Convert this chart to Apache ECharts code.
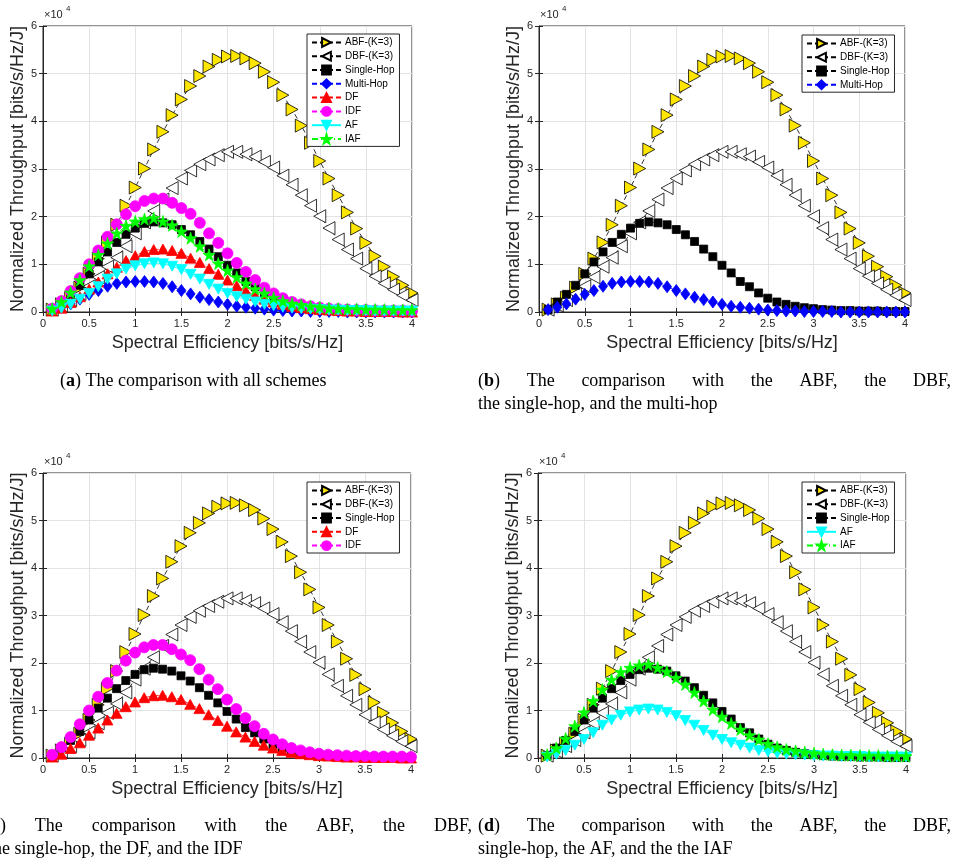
<!DOCTYPE html>
<html>
<head>
<meta charset="utf-8">
<script src="https://cdn.jsdelivr.net/npm/echarts@6/dist/echarts.min.js"></script>
<style>html,body{margin:0;padding:0;background:#fff;}#c{width:953px;height:863px;}</style>
</head>
<body>
<div id="c"></div>
<script>
// Spectral efficiency [bits/s/Hz]
const xs = [0.1,0.2,0.3,0.4,0.5,0.6,0.7,0.8,0.9,1.0,1.1,1.2,1.3,1.4,1.5,1.6,1.7,1.8,1.9,2.0,
            2.1,2.2,2.3,2.4,2.5,2.6,2.7,2.8,2.9,3.0,3.1,3.2,3.3,3.4,3.5,3.6,3.7,3.8,3.9,4.0];
// Normalized throughput, in units of 10^4 bits/s/Hz/J
const abf    = [0.05,0.16,0.30,0.51,0.80,1.12,1.46,1.83,2.23,2.61,3.01,3.41,3.78,4.13,4.46,4.74,4.95,5.15,5.29,5.36,
                5.37,5.32,5.22,5.04,4.82,4.55,4.25,3.91,3.55,3.17,2.80,2.45,2.09,1.75,1.45,1.17,0.95,0.74,0.56,0.40];
const dbf    = [0.05,0.14,0.25,0.38,0.54,0.73,0.95,1.14,1.38,1.65,1.88,2.12,2.36,2.60,2.80,2.97,3.10,3.20,3.29,3.36,
                3.36,3.31,3.26,3.15,3.03,2.86,2.67,2.45,2.23,2.01,1.76,1.52,1.31,1.12,0.91,0.75,0.60,0.47,0.35,0.25];
const single = [0.05,0.21,0.37,0.56,0.80,1.05,1.26,1.46,1.63,1.76,1.86,1.89,1.87,1.83,1.73,1.62,1.48,1.32,1.16,0.98,
                0.82,0.64,0.53,0.40,0.29,0.21,0.16,0.12,0.09,0.07,0.05,0.04,0.03,0.03,0.02,0.02,0.02,0.01,0.01,0.01];
const multi  = [0.05,0.10,0.17,0.27,0.37,0.45,0.54,0.60,0.63,0.64,0.64,0.63,0.60,0.53,0.45,0.38,0.31,0.26,0.21,0.16,
                0.12,0.10,0.08,0.06,0.04,0.03,0.02,0.02,0.01,0.01,0.01,0.01,0.00,0.00,0.00,0.00,0.00,0.00,0.00,0.00];
const df     = [0.02,0.08,0.20,0.32,0.48,0.63,0.80,0.94,1.08,1.18,1.27,1.31,1.32,1.29,1.23,1.13,1.04,0.91,0.79,0.67,
                0.55,0.44,0.35,0.27,0.21,0.16,0.12,0.09,0.07,0.05,0.04,0.03,0.02,0.02,0.01,0.01,0.01,0.01,0.00,0.00];
const idf    = [0.07,0.23,0.44,0.71,1.00,1.29,1.58,1.84,2.05,2.22,2.33,2.38,2.38,2.29,2.18,2.06,1.87,1.65,1.45,1.23,
                1.03,0.84,0.67,0.51,0.39,0.29,0.21,0.16,0.12,0.09,0.07,0.06,0.05,0.04,0.04,0.03,0.03,0.03,0.03,0.02];
const af     = [0.02,0.08,0.16,0.27,0.39,0.53,0.69,0.80,0.90,0.97,1.01,1.03,1.01,0.96,0.89,0.79,0.69,0.58,0.48,0.39,
                0.32,0.27,0.21,0.16,0.13,0.10,0.08,0.07,0.06,0.05,0.04,0.04,0.03,0.03,0.03,0.02,0.02,0.02,0.02,0.02];
const iaf    = [0.07,0.21,0.41,0.67,0.96,1.20,1.44,1.65,1.81,1.90,1.95,1.97,1.90,1.82,1.69,1.55,1.38,1.20,1.02,0.87,
                0.73,0.60,0.48,0.39,0.30,0.23,0.18,0.15,0.12,0.10,0.08,0.07,0.06,0.06,0.05,0.05,0.05,0.04,0.04,0.04];

const xTicks = [0,0.5,1,1.5,2,2.5,3,3.5,4];
const yTicks = [0,1,2,3,4,5,6];
const seriesNames = {abf:'ABF-(K=3)', dbf:'DBF-(K=3)', single:'Single-Hop', multi:'Multi-Hop',
                     df:'DF', idf:'IDF', af:'AF', iaf:'IAF'};
const seriesData = {abf, dbf, single, multi, df, idf, af, iaf};
const panels = [
  ['abf','dbf','single','multi','df','idf','af','iaf'],
  ['abf','dbf','single','multi'],
  ['abf','dbf','single','df','idf'],
  ['abf','dbf','single','af','iaf']
];
const xTitle = 'Spectral Efficiency [bits/s/Hz]';
const yTitle = 'Normalized Throughput [bits/s/Hz/J]';

// ---- styling / layout ----
const SANS = '"Liberation Sans", Arial, Helvetica, sans-serif';
const SERIF = '"Liberation Serif", "Times New Roman", serif';
const grids = [
  {left:43,  top:26,  width:369, height:286},
  {left:539, top:26,  width:366, height:286},
  {left:43,  top:473, width:368, height:285},
  {left:538, top:473, width:368, height:285}
];
const legendPos = [
  {left:307, top:34}, {left:802, top:35}, {left:307, top:482}, {left:802, top:482}
];
const STAR = 'path://M50,0L61,35L98,35L68,57L79,91L50,70L21,91L32,57L2,35L39,35Z';
const styles = {
  abf:   {symbol:'path://M0,0L10,5L0,10Z', size:[12,13], fill:'#FFE600', stroke:'#000', line:'#000', dash:[5,3]},
  dbf:   {symbol:'path://M10,0L0,5L10,10Z', size:[12,13], fill:'#FFFFFF', stroke:'#000', line:'#000', dash:[5,3]},
  single:{symbol:'rect', size:8, fill:'#000', stroke:'#000', line:'#000', dash:[5,3]},
  multi: {symbol:'diamond', size:[9,12], fill:'#0000FF', stroke:'#0000FF', line:'#0000FF', dash:[5,3]},
  df:    {symbol:'triangle', size:[11,10], fill:'#FF0000', stroke:'#FF0000', line:'#FF0000', dash:[5,3]},
  idf:   {symbol:'circle', size:11, fill:'#FF00FF', stroke:'#FF00FF', line:'#FF00FF', dash:[5,3]},
  af:    {symbol:'path://M0,0L10,0L5,9Z', size:[11,10], fill:'#00FFFF', stroke:'#00FFFF', line:'#00FFFF', dash:'solid'},
  iaf:   {symbol:STAR, size:12, fill:'#00FF00', stroke:'#00FF00', line:'#00FF00', dash:[6,3,1,3]}
};

const xAxis = [], yAxis = [], series = [], legend = [], graphic = [];
grids.forEach((g, p) => {
  xAxis.push({
    type:'value', gridIndex:p, min:0, max:4, interval:0.5,
    name:xTitle, nameLocation:'middle', nameGap:22,
    nameTextStyle:{fontFamily:SANS, fontSize:18, color:'#262626'},
    axisLine:{show:true, lineStyle:{color:'#262626', width:1}},
    axisTick:{show:true, inside:true, length:4, lineStyle:{color:'#262626'}},
    axisLabel:{fontFamily:SANS, fontSize:11, color:'#262626', margin:6},
    splitLine:{show:true, lineStyle:{color:'#E3E3E3', width:1}}
  });
  yAxis.push({
    type:'value', gridIndex:p, min:0, max:6, interval:1,
    name:yTitle, nameLocation:'middle', nameGap:13,
    nameTextStyle:{fontFamily:SANS, fontSize:18, color:'#262626'},
    axisLine:{show:true, lineStyle:{color:'#262626', width:1}},
    axisTick:{show:true, inside:true, length:4, lineStyle:{color:'#262626'}},
    axisLabel:{fontFamily:SANS, fontSize:11, color:'#262626', margin:6},
    splitLine:{show:true, lineStyle:{color:'#E3E3E3', width:1}}
  });
  graphic.push({type:'text', left:g.left+1, top:g.top-17,
    style:{text:'\u00D710', font:'11px '+SANS, fill:'#262626'}});
  graphic.push({type:'text', left:g.left+23, top:g.top-21,
    style:{text:'4', font:'8px '+SANS, fill:'#262626'}});
});
// box ticks on top and right
grids.forEach((g, p) => {
  xAxis.push({type:'value', gridIndex:p, position:'top', min:0, max:4, interval:0.5,
    axisLine:{show:false}, axisLabel:{show:false}, splitLine:{show:false},
    axisTick:{show:true, inside:true, length:4, lineStyle:{color:'#262626'}}});
  yAxis.push({type:'value', gridIndex:p, position:'right', min:0, max:6, interval:1,
    axisLine:{show:false}, axisLabel:{show:false}, splitLine:{show:false},
    axisTick:{show:true, inside:true, length:4, lineStyle:{color:'#262626'}}});
});

panels.forEach((keys, p) => {
  keys.forEach(k => {
    const s = styles[k];
    const arr = seriesData[k];
    series.push({
      type:'line', name:seriesNames[k], xAxisIndex:p, yAxisIndex:p,
      data: xs.map((x, i) => [x, arr[i]]),
      symbol:s.symbol, symbolSize:s.size, showAllSymbol:true,
      itemStyle:{color:s.fill, borderColor:s.stroke, borderWidth:0.8},
      lineStyle:{color:s.line, width:0.8, type:s.dash},
      emphasis:{disabled:true}, animation:false, clip:true
    });
  });
  legend.push({
    data: keys.map(k => seriesNames[k]),
    left: legendPos[p].left, top: legendPos[p].top, orient:'vertical',
    itemWidth:29, itemHeight:11, itemGap:3, padding:[3,5,2,4],
    backgroundColor:'#fff', borderColor:'#262626', borderWidth:1, borderRadius:0,
    textStyle:{fontFamily:SANS, fontSize:10, color:'#000', padding:[0,0,0,-1]},
    selectedMode:false
  });
});

// ---- captions ----
const cv = document.createElement('canvas').getContext('2d');
const CAP_SIZE = 18;
function fontOf(b){ return (b ? 'bold ' : '') + CAP_SIZE + 'px ' + SERIF; }
function measure(t, b){ cv.font = fontOf(b); return cv.measureText(t).width; }
function toWords(str){
  return str.split(' ').map(w => {
    const m = w.match(/^\(([a-d])\)$/);
    if (m) return [{t:'('}, {t:m[1], b:true}, {t:')'}];
    return [{t:w}];
  });
}
function captionLine(str, x0, x1, y, justify){
  const words = toWords(str);
  const widths = words.map(w => w.reduce((s, r) => s + measure(r.t, r.b), 0));
  const total = widths.reduce((a, b) => a + b, 0);
  const gap = justify ? (x1 - x0 - total) / (words.length - 1) : measure(' ', false);
  let x = x0;
  words.forEach((w, i) => {
    let rx = x;
    w.forEach(r => {
      graphic.push({type:'text', x:rx, y:y,
        style:{text:r.t, font:fontOf(r.b), fill:'#000', textVerticalAlign:'middle', textAlign:'left'}});
      rx += measure(r.t, r.b);
    });
    x += widths[i] + gap;
  });
}
captionLine('(a) The comparison with all schemes', 60, 0, 381, false);
captionLine('(b) The comparison with the ABF, the DBF,', 478, 951, 381, true);
captionLine('the single-hop, and the multi-hop', 478, 0, 404, false);
captionLine('(c) The comparison with the ABF, the DBF,', -14, 472, 826, true);
captionLine('the single-hop, the DF, and the IDF', -12, 0, 849, false);
captionLine('(d) The comparison with the ABF, the DBF,', 478, 951, 826, true);
captionLine('single-hop, the AF, and the the IAF', 478, 0, 849, false);

const chart = echarts.init(document.getElementById('c'), null, {renderer:'canvas'});
chart.setOption({
  animation:false,
  backgroundColor:'#fff',
  grid: grids.map(g => Object.assign({show:true, borderColor:'#262626', borderWidth:1, backgroundColor:'transparent'}, g)),
  xAxis, yAxis, legend, series, graphic
});
</script>
</body>
</html>
